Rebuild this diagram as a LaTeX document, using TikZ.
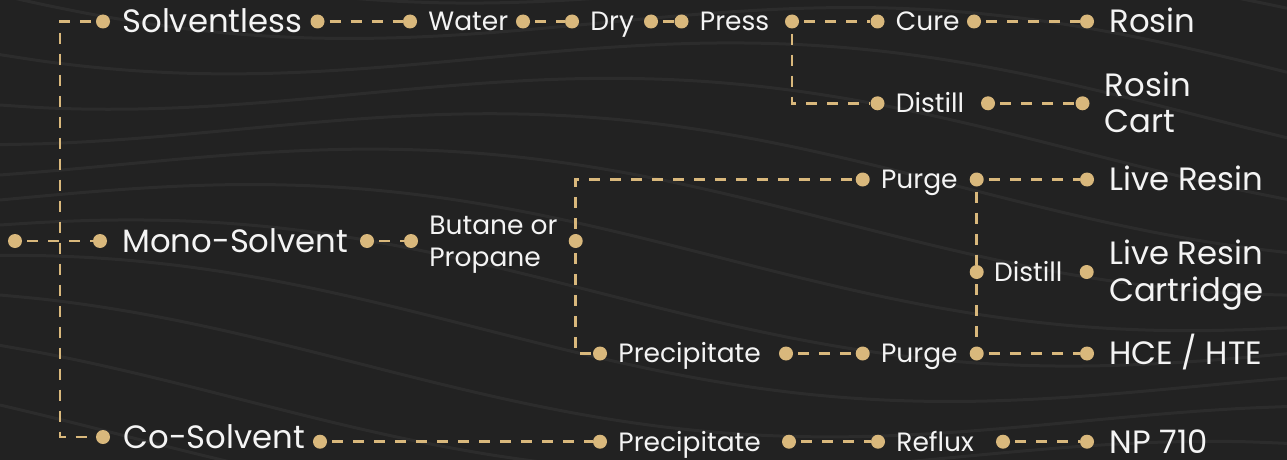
\documentclass[tikz,border=0pt]{standalone}
\usepackage{fontspec}
\setmainfont{Poppins}
\usetikzlibrary{positioning}
\definecolor{bgdark}{HTML}{222222}
\definecolor{topo}{HTML}{2C2C2C}
\definecolor{gold}{HTML}{D9B87C}
\definecolor{ink}{HTML}{F4F4F4}

\begin{document}
\begin{tikzpicture}[x=1pt,y=-1pt,
    dot/.style={circle,fill=gold,inner sep=0pt,minimum size=14pt},
    link/.style={gold,line width=2.6pt,dash pattern=on 11pt off 10pt,dash phase=16pt},
    topoline/.style={topo,line width=3pt},
    lbl/.style={ink,inner sep=0pt,anchor=west,font=\fontsize{26.5}{31.7}\selectfont,text height=18.6pt,text depth=0pt},
    big/.style={lbl,font=\fontsize{32.3}{36.7}\selectfont,text height=22.6pt}]
  \fill[bgdark] (0,0) rectangle (1287,460);
  \useasboundingbox (0,0) rectangle (1287,460);

  % background contours
  \foreach \k in {0,...,11}
    \draw[topoline] plot[smooth,domain=0:1287,samples=30] (\x,{\k*45-70+40*sin(\x/4+\k*30)+0.08*\x});

  % root and trunk
  \node[dot] (start) at (15,241) {};
  \coordinate (top) at (60,21.5);
  \coordinate (bot) at (60,437);

  % first level
  \foreach \n/\x/\y/\t/\r/\v/\g in {solv/103/21.5/Solventless/317.5/21.5/12pt,
      mono/100/241/Mono-Solvent/367/241/15pt, co/103/437/Co-Solvent/320/441.7/13pt} {
    \node[dot] (\n-l) at (\x,\y) {};
    \node[big,right=\g of \n-l] (\n) {\t};
    \node[dot] (\n-r) at (\r,\v) {};
  }

  % process steps
  \foreach \n/\x/\y/\t/\r in {water/410/21.5/Water/523, dry/572/21.5/Dry/651,
      press/681.5/21.5/Press/792, cure/877.5/21.5/Cure/974, distA/877.5/103.3/Distill/988,
      purgeA/862.7/179.5/Purge/976.7, precA/600/353.5/Precipitate/786,
      purgeB/862.7/353.5/Purge/976.7, precB/600/441.7/Precipitate/789,
      reflux/878/441.7/Reflux/1003} {
    \node[dot] (\n-l) at (\x,\y) {};
    \node[lbl,right=11pt of \n-l] (\n) {\t};
    \node[dot] (\n-r) at (\r,\y) {};
  }

  \node[dot] (butane-l) at (411,241) {};
  \node[lbl,align=left,text height=50.3pt,right=11pt of butane-l] (butane) {Butane or\\Propane};
  \node[dot] (butane-r) at (575.7,241) {};

  \node[dot] (distB-l) at (976.7,272) {};
  \node[lbl,right=10pt of distB-l] (distB) {Distill};

  % products
  \foreach \n/\x/\y/\t in {rosin/1087/21.5/Rosin, lres/1087/179.5/Live Resin,
      hce/1087/353.5/{HCE / HTE}, np/1087/441.7/NP 710} {
    \node[dot] (\n-l) at (\x,\y) {};
    \node[big,right=15pt of \n-l] (\n) {\t};
  }
  \foreach \n/\x/\y/\t in {rcart/1082.5/103.3/{Rosin\\Cart}, lrcart/1086.7/272/{Live Resin\\Cartridge}} {
    \node[dot] (\n-l) at (\x,\y) {};
    \node[big,align=left,text height=59.3pt,right=15pt of \n-l] (\n) {\t};
  }

  % connectors
  \draw[link] (solv-l) -- (top) -- (bot) -- (co-l);
  \draw[link] (start) -- (mono-l);
  \foreach \a/\b in {solv/water, water/dry, dry/press, press/cure, cure/rosin, distA/rcart,
      mono/butane, purgeA/lres, precA/purgeB, purgeB/hce, co/precB, precB/reflux, reflux/np}
    \draw[link] (\a-r) -- (\b-l);
  \draw[link] (press-r) |- (distA-l);
  \draw[link] (butane-r) |- (purgeA-l);
  \draw[link] (butane-r) |- (precA-l);
  \draw[link] (purgeA-r) -- (distB-l) -- (purgeB-r);
\end{tikzpicture}
\end{document}
